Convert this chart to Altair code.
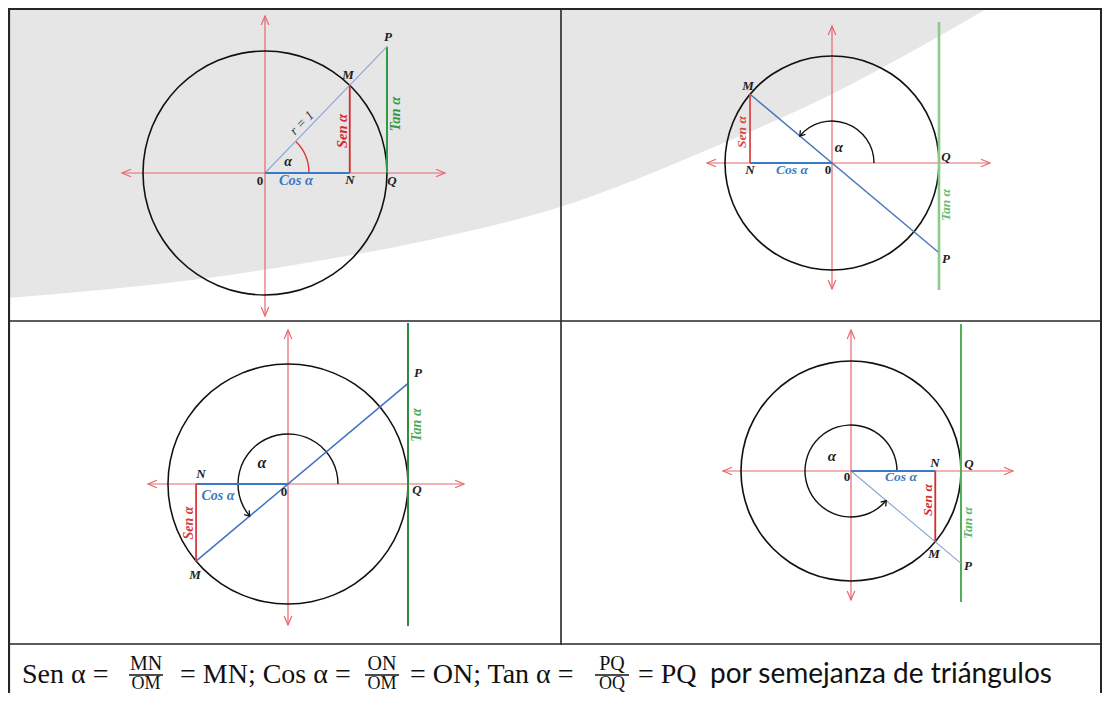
import math
import altair as alt
import pandas as pd

# ---------------- values shown in the figure ----------------
panel_ids = ["I", "II", "III", "IV"]
alpha_deg = [46, 140, 220, 320]          # angle alpha drawn in each panel (unit circle, r = 1)
num_text = ["MN", "ON", "PQ"]
den_text = ["OM", "OM", "OQ"]
eq_text = ["Sen α =", "= MN; Cos α =", "= ON; Tan α =", "= PQ"]
tail_text = "por semejanza de triángulos"

# ---------------- layout (page pixels) ----------------
W, H = 1094, 685
X0, Y0 = 8, 8
cx = [265, 832, 288, 851]
cy = [173, 163, 484, 471]
rpx = [122, 107, 120, 110]
arc_px = [44, 42, 50, 46]
ax_left = [122, 707, 148, 723]
ax_right = [445, 990, 464, 1013]
ax_top = [16, 26, 330, 330]
ax_bottom = [316, 289, 625, 600]
tan_top = [None, 22, 323, 324]
tan_bottom = [None, 290, 626, 602]
ray_from = ["O", "M", "M", "O"]

AXIS = "#e8666c"
BLUE = "#3b79c4"
sen_col = ["#d42b2b", "#d94848", "#dc3a3a", "#d42b2b"]
tan_col = ["#2f9a44", "#8acb8a", "#2e8a3c", "#4fae58"]
ray_col = ["#8eaad6", "#4a78bd", "#3f72c2", "#86a4d2"]
ray_w = [1.2, 1.5, 1.5, 1.1]
alpha_arc_col = ["#d63a3a", "#111111", "#111111", "#111111"]
BORDER = "#262626"

# swoosh boundary (grey background region)
sw_x = [8, 100, 200, 300, 429, 560, 707, 830, 911, 988]
sw_y = [298, 290, 279, 264, 240, 207, 150, 95, 52, 8]

segs, arcs, axis_arrows, arc_arrows = [], [], [], []
for i in range(4):
    a = math.radians(alpha_deg[i])
    ox, oy, r = cx[i], cy[i], rpx[i]
    mx, my = ox + r * math.cos(a), oy - r * math.sin(a)
    qx = ox + r
    py = oy - r * math.tan(a)
    # axes
    segs.append(dict(x=ax_left[i], y=oy, x2=ax_right[i], y2=oy, c=AXIS, w=1.2, z=0))
    segs.append(dict(x=ox, y=ax_top[i], x2=ox, y2=ax_bottom[i], c=AXIS, w=1.2, z=0))
    axis_arrows += [dict(x=ax_right[i], y=oy, ang=0), dict(x=ax_left[i], y=oy, ang=180),
                    dict(x=ox, y=ax_top[i], ang=270), dict(x=ox, y=ax_bottom[i], ang=90)]
    # tangent line
    if tan_top[i] is None:
        segs.append(dict(x=qx, y=oy, x2=qx, y2=py, c=tan_col[i], w=2.0, z=2))
    else:
        segs.append(dict(x=qx, y=tan_top[i], x2=qx, y2=tan_bottom[i], c=tan_col[i],
                         w=2.6 if i == 1 else 2.0, z=2))
    # ray O-M-P
    sx, sy = (ox, oy) if ray_from[i] == "O" else (mx, my)
    segs.append(dict(x=sx, y=sy, x2=qx, y2=py, c=ray_col[i], w=ray_w[i], z=2))
    # sine and cosine
    segs.append(dict(x=mx, y=my, x2=mx, y2=oy, c=sen_col[i], w=1.8, z=3))
    segs.append(dict(x=ox, y=oy, x2=mx, y2=oy, c=BLUE, w=2.2, z=3))
    # circle and alpha arc (vega angles: 0 at top, clockwise)
    arcs.append(dict(x=ox, y=oy, t0=0.0, t1=2 * math.pi, r0=r + 0.8, r1=r - 0.8, c="#111111"))
    arcs.append(dict(x=ox, y=oy, t0=2.5 * math.pi - a, t1=2.5 * math.pi,
                     r0=arc_px[i] + 0.7, r1=arc_px[i] - 0.7, c=alpha_arc_col[i]))
    if i > 0:
        ar = arc_px[i]
        arc_arrows.append(dict(x=ox + ar * math.cos(a), y=oy - ar * math.sin(a),
                               ang=math.degrees(math.atan2(-math.cos(a), -math.sin(a))) % 360))

seg_df = pd.DataFrame(segs)
arc_df = pd.DataFrame(arcs)
axarr_df = pd.DataFrame(axis_arrows)
arcarr_df = pd.DataFrame(arc_arrows)
sw_df = pd.DataFrame({"x": sw_x, "y": sw_y, "top": [8] * len(sw_x)})

borders = pd.DataFrame([
    dict(x=9, y=9, x2=1101, y2=9, w=2.2),
    dict(x=9, y=9, x2=9, y2=693, w=2.2),
    dict(x=1101, y=9, x2=1101, y2=693, w=2.0),
    dict(x=9, y=321, x2=1101, y2=321, w=1.6),
    dict(x=9, y=644, x2=1101, y2=644, w=1.6),
    dict(x=561, y=9, x2=561, y2=644, w=1.6),
])

G = "#1e1e1e"
labels = [
    # panel I
    ("P", 388, 37, G, 0, 13), ("M", 348, 75, G, 0, 13), ("N", 350, 180, G, 0, 13),
    ("Q", 392, 181, G, 0, 13), ("Cos α", 296, 181, BLUE, 0, 14.5),
    ("Sen α", 343, 131, sen_col[0], 270, 14.5), ("Tan α", 396, 114, tan_col[0], 270, 14.5),
    ("α", 288, 162, G, 0, 14),
    # panel II
    ("M", 748, 86, G, 0, 13), ("Sen α", 742, 132, sen_col[1], 270, 13.5), ("N", 750, 170, G, 0, 13),
    ("Cos α", 792, 170, BLUE, 0, 13.5), ("α", 839, 147, G, 0, 15),
    ("Q", 946, 157, G, 0, 13), ("Tan α", 946, 205, "#6dbb6d", 270, 13.5), ("P", 946, 259, G, 0, 13),
    # panel III
    ("P", 418, 373, G, 0, 13), ("Tan α", 417, 425, "#49a95a", 270, 14), ("α", 262, 463, G, 0, 16),
    ("N", 201, 474, G, 0, 13), ("Cos α", 218, 496, BLUE, 0, 14),
    ("Q", 417, 490, G, 0, 13), ("Sen α", 189, 523, sen_col[2], 270, 14), ("M", 195, 575, G, 0, 13),
    # panel IV
    ("α", 832, 456, G, 0, 15), ("N", 935, 463, G, 0, 13), ("Q", 969, 464, G, 0, 13),
    ("Cos α", 901, 477, BLUE, 0, 13.5), ("Sen α", 928, 500, sen_col[3], 270, 13.5),
    ("Tan α", 968, 523, "#5cb865", 270, 13.5), ("M", 934, 554, G, 0, 13), ("P", 968, 566, G, 0, 13),
]
lab_df = pd.DataFrame(labels, columns=["t", "x", "y", "c", "a", "fs"])
zero_df = pd.DataFrame({"t": ["0"] * 4, "x": [260, 828, 284, 847], "y": [181, 170, 492, 477]})
r_df = pd.DataFrame([dict(t="r = 1", x=302, y=123, c="#333333", a=315, fs=13.5)])

# formula layout
eq_x = [22, 180, 410, 638]
frac_cx = [146, 382, 612]
MAIN_BASE, NUM_BASE, DEN_BASE, BAR_Y = 683, 670, 689, 675
eq_df = pd.DataFrame({"t": eq_text, "x": eq_x, "y": [MAIN_BASE] * 4})
num_df = pd.DataFrame({"t": num_text, "x": frac_cx, "y": [NUM_BASE] * 3})
den_df = pd.DataFrame({"t": den_text, "x": frac_cx, "y": [DEN_BASE] * 3})
bar_df = pd.DataFrame({"x": [c - 17 for c in frac_cx], "x2": [c + 17 for c in frac_cx],
                       "y": [BAR_Y] * 3})
tail_df = pd.DataFrame({"t": [tail_text], "x": [710], "y": [MAIN_BASE]})

xs = alt.Scale(domain=[X0, X0 + W], nice=False, zero=False)
ys = alt.Scale(domain=[Y0, Y0 + H], nice=False, zero=False, reverse=True)


def X(f):
    return alt.X(f, type="quantitative", scale=xs, axis=None)


def Y(f):
    return alt.Y(f, type="quantitative", scale=ys, axis=None)


swoosh = alt.Chart(sw_df).mark_area(interpolate="monotone", color="#e6e6e7").encode(
    x=X("x"), y=Y("y"), y2="top:Q")

border_layer = alt.Chart(borders).mark_rule(color=BORDER, strokeCap="square").encode(
    x=X("x"), y=Y("y"), x2="x2:Q", y2="y2:Q", strokeWidth=alt.StrokeWidth("w:Q", scale=None))


def rule_layer(df):
    return alt.Chart(df).mark_rule(strokeCap="butt").encode(
        x=X("x"), y=Y("y"), x2="x2:Q", y2="y2:Q",
        color=alt.Color("c:N", scale=None), strokeWidth=alt.StrokeWidth("w:Q", scale=None))


axes_layer = rule_layer(seg_df[seg_df.z == 0])
lines_layer = rule_layer(seg_df[seg_df.z > 0].sort_values("z"))

arc_layer = alt.Chart(arc_df).mark_arc(strokeWidth=0).encode(
    x=X("x"), y=Y("y"),
    theta=alt.Theta("t0:Q", scale=None, stack=False), theta2="t1:Q",
    radius=alt.Radius("r0:Q", scale=None), radius2="r1:Q",
    color=alt.Color("c:N", scale=None))

axis_arrow_layer = alt.Chart(axarr_df).mark_point(
    shape="M-2,-0.85L0,0L-2,0.85", size=80, filled=False, color=AXIS, strokeWidth=1.2, opacity=1).encode(
    x=X("x"), y=Y("y"), angle=alt.Angle("ang:Q", scale=None))

arc_arrow_layer = alt.Chart(arcarr_df).mark_point(
    shape="M-1.6,-1.1L0,0L-1.6,1.1", size=36, filled=False, color="#111111", strokeWidth=1.3, opacity=1).encode(
    x=X("x"), y=Y("y"), angle=alt.Angle("ang:Q", scale=None))

label_layer = alt.Chart(lab_df).mark_text(
    font="Liberation Serif", fontStyle="italic", fontWeight="bold", align="center", baseline="middle").encode(
    x=X("x"), y=Y("y"), text="t:N", color=alt.Color("c:N", scale=None),
    angle=alt.Angle("a:Q", scale=None), size=alt.Size("fs:Q", scale=None))

zero_layer = alt.Chart(zero_df).mark_text(
    font="Liberation Serif", fontWeight="bold", fontSize=13, align="center", baseline="middle",
    color=G).encode(x=X("x"), y=Y("y"), text="t:N")

r_layer = alt.Chart(r_df).mark_text(
    font="Liberation Serif", fontStyle="italic", align="center", baseline="middle").encode(
    x=X("x"), y=Y("y"), text="t:N", color=alt.Color("c:N", scale=None),
    angle=alt.Angle("a:Q", scale=None), size=alt.Size("fs:Q", scale=None))

eq_layer = alt.Chart(eq_df).mark_text(
    font="Liberation Serif", fontSize=28, align="left", baseline="alphabetic", color="#111111").encode(
    x=X("x"), y=Y("y"), text="t:N")

num_layer = alt.Chart(num_df).mark_text(
    font="Liberation Serif", fontSize=20, align="center", baseline="alphabetic", color="#111111").encode(
    x=X("x"), y=Y("y"), text="t:N")

den_layer = alt.Chart(den_df).mark_text(
    font="Liberation Serif", fontSize=18, align="center", baseline="alphabetic", color="#111111").encode(
    x=X("x"), y=Y("y"), text="t:N")

bar_layer = alt.Chart(bar_df).mark_rule(color="#111111", strokeWidth=1.3).encode(
    x=X("x"), x2="x2:Q", y=Y("y"))

tail_layer = alt.Chart(tail_df).mark_text(
    font="Lato", fontSize=28, align="left", baseline="alphabetic", color="#111111").encode(
    x=X("x"), y=Y("y"), text="t:N")

chart = alt.layer(
    swoosh, border_layer, axes_layer, arc_layer, lines_layer, axis_arrow_layer, arc_arrow_layer,
    label_layer, zero_layer, r_layer, eq_layer, num_layer, den_layer, bar_layer, tail_layer,
).properties(width=W, height=H, padding=0, autosize="none", background="white").configure_view(stroke=None)

chart.save("out.html", embed_options={"renderer": "svg", "actions": False})
